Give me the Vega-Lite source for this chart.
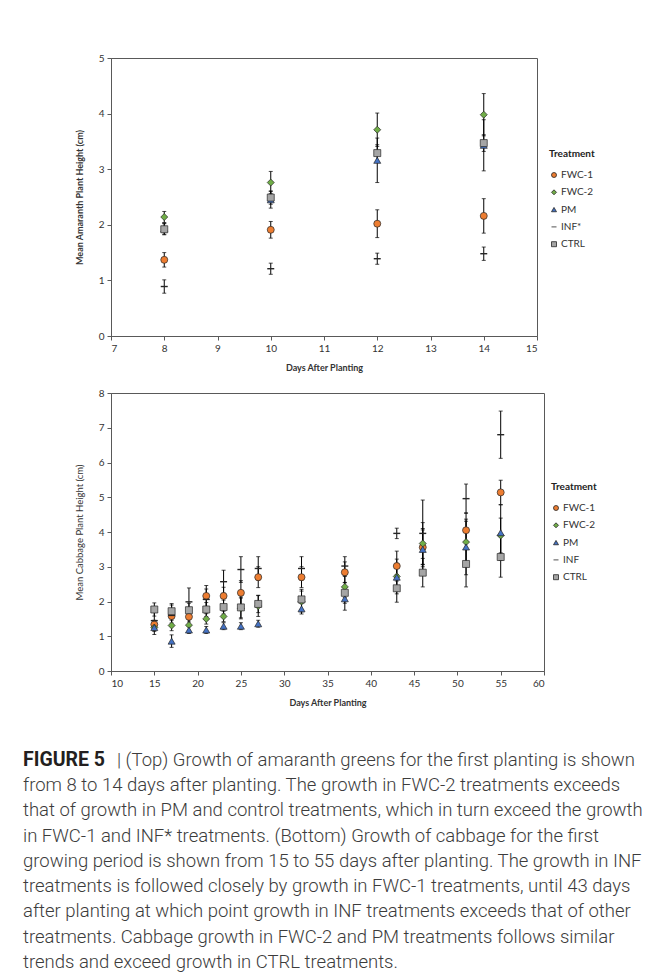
{
  "$schema": "https://vega.github.io/schema/vega-lite/v6.json",
  "background": "white",
  "padding": {"left": 23, "top": 52, "right": 0, "bottom": 0},
  "spacing": 14,
  "config": {
    "font": "Lato",
    "view": {"stroke": "#595959", "strokeWidth": 1},
    "axis": {"grid": false, "domainColor": "#595959", "tickColor": "#595959", "labelColor": "#333333", "titleColor": "#333333", "labelFont": "Lato", "titleFont": "Lato", "labelFontSize": 10, "titleFontSize": 9, "titleFontWeight": "bold", "tickSize": 4, "labelPadding": 3},
    "legend": {"titleFont": "Lato", "labelFont": "Lato", "titleFontSize": 10, "labelFontSize": 10, "titleColor": "#222222", "labelColor": "#333333", "symbolSize": 25, "rowPadding": 7.3, "titlePadding": 11, "labelOffset": 2, "symbolStrokeColor": "#262626", "symbolStrokeWidth": 0.8}
  },
  "datasets": {
    "amaranth": [
      {"day": 8, "treatment": "FWC-1", "height": 1.37, "err": 0.13},
      {"day": 10, "treatment": "FWC-1", "height": 1.91, "err": 0.15},
      {"day": 12, "treatment": "FWC-1", "height": 2.02, "err": 0.25},
      {"day": 14, "treatment": "FWC-1", "height": 2.16, "err": 0.31},
      {"day": 8, "treatment": "FWC-2", "height": 2.14, "err": 0.1},
      {"day": 10, "treatment": "FWC-2", "height": 2.76, "err": 0.2},
      {"day": 12, "treatment": "FWC-2", "height": 3.71, "err": 0.3},
      {"day": 14, "treatment": "FWC-2", "height": 3.98, "err": 0.38},
      {"day": 8, "treatment": "PM", "height": 1.93, "err": 0.1},
      {"day": 10, "treatment": "PM", "height": 2.45, "err": 0.15},
      {"day": 12, "treatment": "PM", "height": 3.16, "err": 0.4},
      {"day": 14, "treatment": "PM", "height": 3.43, "err": 0.46},
      {"day": 8, "treatment": "INF*", "height": 0.89, "err": 0.12},
      {"day": 10, "treatment": "INF*", "height": 1.21, "err": 0.1},
      {"day": 12, "treatment": "INF*", "height": 1.39, "err": 0.1},
      {"day": 14, "treatment": "INF*", "height": 1.48, "err": 0.12},
      {"day": 8, "treatment": "CTRL", "height": 1.92, "err": 0.1},
      {"day": 10, "treatment": "CTRL", "height": 2.49, "err": 0.12},
      {"day": 12, "treatment": "CTRL", "height": 3.29, "err": 0.15},
      {"day": 14, "treatment": "CTRL", "height": 3.47, "err": 0.15}
    ],
    "cabbage": [
      {"day": 15, "treatment": "FWC-1", "height": 1.34, "err": 0.12},
      {"day": 17, "treatment": "FWC-1", "height": 1.58, "err": 0.2},
      {"day": 19, "treatment": "FWC-1", "height": 1.56, "err": 0.15},
      {"day": 21, "treatment": "FWC-1", "height": 2.16, "err": 0.3},
      {"day": 23, "treatment": "FWC-1", "height": 2.16, "err": 0.25},
      {"day": 25, "treatment": "FWC-1", "height": 2.25, "err": 0.35},
      {"day": 27, "treatment": "FWC-1", "height": 2.7, "err": 0.3},
      {"day": 32, "treatment": "FWC-1", "height": 2.7, "err": 0.3},
      {"day": 37, "treatment": "FWC-1", "height": 2.84, "err": 0.3},
      {"day": 43, "treatment": "FWC-1", "height": 3.02, "err": 0.43},
      {"day": 46, "treatment": "FWC-1", "height": 3.56, "err": 0.5},
      {"day": 51, "treatment": "FWC-1", "height": 4.05, "err": 0.5},
      {"day": 55, "treatment": "FWC-1", "height": 5.14, "err": 0.35},
      {"day": 15, "treatment": "FWC-2", "height": 1.25, "err": 0.1},
      {"day": 17, "treatment": "FWC-2", "height": 1.31, "err": 0.15},
      {"day": 19, "treatment": "FWC-2", "height": 1.32, "err": 0.15},
      {"day": 21, "treatment": "FWC-2", "height": 1.5, "err": 0.15},
      {"day": 23, "treatment": "FWC-2", "height": 1.57, "err": 0.15},
      {"day": 25, "treatment": "FWC-2", "height": 1.8, "err": 0.3},
      {"day": 27, "treatment": "FWC-2", "height": 1.87, "err": 0.3},
      {"day": 32, "treatment": "FWC-2", "height": 2.0, "err": 0.3},
      {"day": 37, "treatment": "FWC-2", "height": 2.42, "err": 0.3},
      {"day": 43, "treatment": "FWC-2", "height": 2.72, "err": 0.5},
      {"day": 46, "treatment": "FWC-2", "height": 3.67, "err": 0.6},
      {"day": 51, "treatment": "FWC-2", "height": 3.71, "err": 0.6},
      {"day": 55, "treatment": "FWC-2", "height": 3.9, "err": 0.5},
      {"day": 15, "treatment": "PM", "height": 1.25, "err": 0.1},
      {"day": 17, "treatment": "PM", "height": 0.86, "err": 0.18},
      {"day": 19, "treatment": "PM", "height": 1.18, "err": 0.1},
      {"day": 21, "treatment": "PM", "height": 1.18, "err": 0.1},
      {"day": 23, "treatment": "PM", "height": 1.29, "err": 0.1},
      {"day": 25, "treatment": "PM", "height": 1.29, "err": 0.1},
      {"day": 27, "treatment": "PM", "height": 1.36, "err": 0.1},
      {"day": 32, "treatment": "PM", "height": 1.79, "err": 0.15},
      {"day": 37, "treatment": "PM", "height": 2.08, "err": 0.33},
      {"day": 43, "treatment": "PM", "height": 2.7, "err": 0.4},
      {"day": 46, "treatment": "PM", "height": 3.5, "err": 0.6},
      {"day": 51, "treatment": "PM", "height": 3.57, "err": 0.8},
      {"day": 55, "treatment": "PM", "height": 3.98, "err": 0.8},
      {"day": 15, "treatment": "INF", "height": 1.45, "err": 0.4},
      {"day": 17, "treatment": "INF", "height": 1.6, "err": 0.3},
      {"day": 19, "treatment": "INF", "height": 1.99, "err": 0.4},
      {"day": 21, "treatment": "INF", "height": 2.06, "err": 0.3},
      {"day": 23, "treatment": "INF", "height": 2.57, "err": 0.33},
      {"day": 25, "treatment": "INF", "height": 2.92, "err": 0.37},
      {"day": 27, "treatment": "INF", "height": 2.95, "err": 0.34},
      {"day": 32, "treatment": "INF", "height": 2.95, "err": 0.34},
      {"day": 37, "treatment": "INF", "height": 3.02, "err": 0.27},
      {"day": 43, "treatment": "INF", "height": 3.96, "err": 0.15},
      {"day": 46, "treatment": "INF", "height": 3.96, "err": 0.96},
      {"day": 51, "treatment": "INF", "height": 4.96, "err": 0.42},
      {"day": 55, "treatment": "INF", "height": 6.8, "err": 0.68},
      {"day": 15, "treatment": "CTRL", "height": 1.77, "err": 0.19},
      {"day": 17, "treatment": "CTRL", "height": 1.72, "err": 0.22},
      {"day": 19, "treatment": "CTRL", "height": 1.75, "err": 0.2},
      {"day": 21, "treatment": "CTRL", "height": 1.77, "err": 0.2},
      {"day": 23, "treatment": "CTRL", "height": 1.84, "err": 0.2},
      {"day": 25, "treatment": "CTRL", "height": 1.83, "err": 0.3},
      {"day": 27, "treatment": "CTRL", "height": 1.93, "err": 0.25},
      {"day": 32, "treatment": "CTRL", "height": 2.06, "err": 0.29},
      {"day": 37, "treatment": "CTRL", "height": 2.25, "err": 0.3},
      {"day": 43, "treatment": "CTRL", "height": 2.38, "err": 0.4},
      {"day": 46, "treatment": "CTRL", "height": 2.83, "err": 0.41},
      {"day": 51, "treatment": "CTRL", "height": 3.08, "err": 0.66},
      {"day": 55, "treatment": "CTRL", "height": 3.28, "err": 0.58}
    ],
    "caption": [
      {"line": 1, "part": "bold", "text": "FIGURE 5"},
      {"line": 1, "part": "rest", "text": "| (Top) Growth of amaranth greens for the first planting is shown"},
      {"line": 2, "part": "body", "text": "from 8 to 14 days after planting. The growth in FWC-2 treatments exceeds"},
      {"line": 3, "part": "body", "text": "that of growth in PM and control treatments, which in turn exceed the growth"},
      {"line": 4, "part": "body", "text": "in FWC-1 and INF* treatments. (Bottom) Growth of cabbage for the first"},
      {"line": 5, "part": "body", "text": "growing period is shown from 15 to 55 days after planting. The growth in INF"},
      {"line": 6, "part": "body", "text": "treatments is followed closely by growth in FWC-1 treatments, until 43 days"},
      {"line": 7, "part": "body", "text": "after planting at which point growth in INF treatments exceeds that of other"},
      {"line": 8, "part": "body", "text": "treatments. Cabbage growth in FWC-2 and PM treatments follows similar"},
      {"line": 9, "part": "body", "text": "trends and exceed growth in CTRL treatments."}
    ]
  },
  "resolve": {"scale": {"color": "independent", "shape": "independent"}, "legend": {"color": "independent", "shape": "independent"}},
  "vconcat": [
    {
      "width": 426,
      "height": 278,
      "data": {"name": "amaranth"},
      "encoding": {
        "x": {"field": "day", "type": "quantitative", "scale": {"domain": [7, 15], "nice": false}, "axis": {"values": [7, 8, 9, 10, 11, 12, 13, 14, 15], "title": "Days After Planting", "titlePadding": 10}},
        "y": {"field": "height", "type": "quantitative", "scale": {"domain": [0, 5], "nice": false}, "axis": {"values": [0, 1, 2, 3, 4, 5], "title": "Mean Amaranth Plant Height (cm)", "titlePadding": 14}}
      },
      "layer": [
        {
          "mark": {"type": "errorbar", "ticks": {"size": 4}, "color": "#000000", "thickness": 1},
          "encoding": {"yError": {"field": "err"}}
        },
        {
          "mark": {"type": "point", "filled": true, "size": 49, "stroke": "#262626", "strokeWidth": 0.7, "opacity": 1},
          "encoding": {
            "strokeWidth": {"condition": {"test": "datum.treatment === 'INF*'", "value": 1.4}, "value": 0.7},
            "color": {"field": "treatment", "type": "nominal", "scale": {"domain": ["FWC-1", "FWC-2", "PM", "INF*", "CTRL"], "range": ["#ED7D31", "#70AD47", "#4472C4", "#000000", "#A5A5A5"]}, "legend": {"title": "Treatment", "orient": "none", "legendX": 438, "legendY": 91}},
            "shape": {"field": "treatment", "type": "nominal", "scale": {"domain": ["FWC-1", "FWC-2", "PM", "INF*", "CTRL"], "range": ["circle", "diamond", "triangle-up", "stroke", "square"]}, "legend": {"title": "Treatment", "orient": "none", "legendX": 438, "legendY": 91}}
          }
        }
      ]
    },
    {
      "width": 433,
      "height": 278,
      "data": {"name": "cabbage"},
      "encoding": {
        "x": {"field": "day", "type": "quantitative", "scale": {"domain": [10, 60], "nice": false}, "axis": {"values": [10, 15, 20, 25, 30, 35, 40, 45, 50, 55, 60], "title": "Days After Planting", "titlePadding": 10}},
        "y": {"field": "height", "type": "quantitative", "scale": {"domain": [0, 8], "nice": false}, "axis": {"values": [0, 1, 2, 3, 4, 5, 6, 7, 8], "title": "Mean Cabbage Plant Height (cm)", "titleFontWeight": "normal", "titleFontSize": 9.5, "titlePadding": 14}}
      },
      "layer": [
        {
          "mark": {"type": "errorbar", "ticks": {"size": 4}, "color": "#000000", "thickness": 1},
          "encoding": {"yError": {"field": "err"}}
        },
        {
          "mark": {"type": "point", "filled": true, "size": 49, "stroke": "#262626", "strokeWidth": 0.7, "opacity": 1},
          "encoding": {
            "strokeWidth": {"condition": {"test": "datum.treatment === 'INF'", "value": 1.4}, "value": 0.7},
            "color": {"field": "treatment", "type": "nominal", "scale": {"domain": ["FWC-1", "FWC-2", "PM", "INF", "CTRL"], "range": ["#ED7D31", "#70AD47", "#4472C4", "#000000", "#A5A5A5"]}, "legend": {"title": "Treatment", "orient": "none", "legendX": 440, "legendY": 89}},
            "shape": {"field": "treatment", "type": "nominal", "scale": {"domain": ["FWC-1", "FWC-2", "PM", "INF", "CTRL"], "range": ["circle", "diamond", "triangle-up", "stroke", "square"]}, "legend": {"title": "Treatment", "orient": "none", "legendX": 440, "legendY": 89}}
          }
        }
      ]
    },
    {
      "width": 426,
      "height": {"step": 24.8},
      "view": {"stroke": null},
      "data": {"name": "caption"},
      "encoding": {
        "y": {"field": "line", "type": "ordinal", "axis": null, "scale": {"domain": [0, 1, 2, 3, 4, 5, 6, 7, 8, 9], "paddingInner": 0, "paddingOuter": 0.59}},
        "x": {"value": 0},
        "text": {"field": "text", "type": "nominal"}
      },
      "layer": [
        {
          "transform": [{"filter": "datum.part === 'bold'"}],
          "mark": {"type": "text", "align": "left", "baseline": "middle", "dx": -88, "font": "Roboto", "fontWeight": "bold", "fontSize": 19.5, "color": "#231f20"}
        },
        {
          "transform": [{"filter": "datum.part === 'rest'"}],
          "mark": {"type": "text", "align": "left", "baseline": "middle", "dx": 6, "font": "Roboto", "fontWeight": 300, "fontSize": 18.5, "color": "#3c3c3c"}
        },
        {
          "transform": [{"filter": "datum.part === 'body'"}],
          "mark": {"type": "text", "align": "left", "baseline": "middle", "dx": -88, "font": "Roboto", "fontWeight": 300, "fontSize": 18.5, "color": "#3c3c3c"}
        }
      ]
    }
  ]
}
